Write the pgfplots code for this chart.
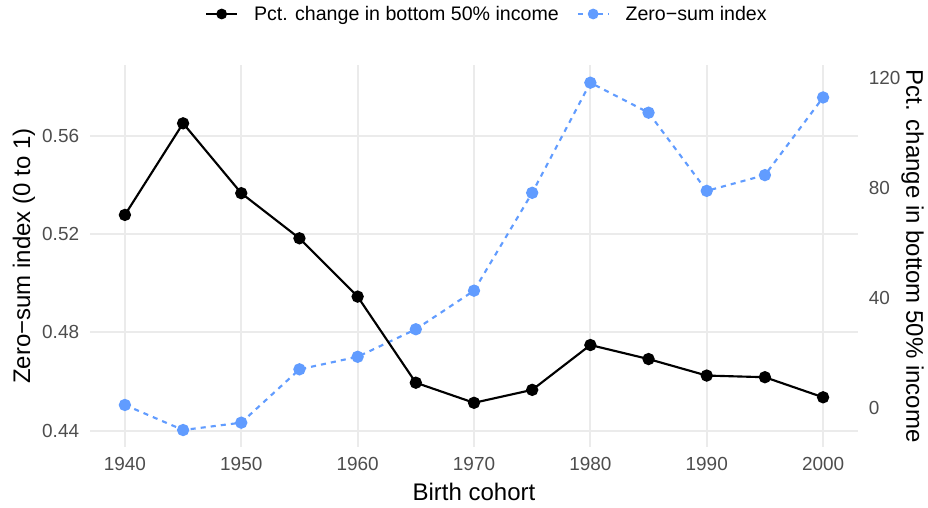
\documentclass[border=0pt]{standalone}
\usepackage{fontspec}
\setmainfont{Liberation Sans}
\usepackage{pgfplots}
\pgfplotsset{compat=1.18}
\definecolor{gridc}{HTML}{EBEBEB}
\definecolor{tickc}{HTML}{4D4D4D}
\definecolor{zsblue}{HTML}{619CFF}
\begin{document}
\begin{tikzpicture}
\useasboundingbox (0,0) rectangle (696pt,380.25pt);
\begin{axis}[
  at={(67.5pt,45pt)}, anchor=south west, scale only axis,
  width=576pt, height=286.5pt,
  xmin=1937, xmax=2003, ymin=0.4333, ymax=0.5887,
  xtick={1940,1950,1960,1970,1980,1990,2000},
  ytick={0.44,0.48,0.52,0.56},
  /pgf/number format/assume math mode=true,
  xticklabel style={/pgf/number format/1000 sep={}, font=\fontsize{14.2}{16}\selectfont, text=tickc, anchor=north, inner sep=0pt, yshift=-7.5pt},
  yticklabel style={/pgf/number format/fixed, /pgf/number format/precision=2, /pgf/number format/fixed zerofill, font=\fontsize{14.2}{16}\selectfont, text=tickc, anchor=east, inner sep=0pt, xshift=-8pt},
  grid=major, major grid style={gridc, line width=1.5pt},
  axis line style={draw=none}, major tick length=0pt,
  xlabel={Birth cohort}, ylabel={Zero−sum index (0 to 1)},
  label style={font=\fontsize{18}{21}\selectfont},
  xlabel style={at={(axis description cs:0.5,-0.1178)}, anchor=center},
  ylabel style={at={(axis description cs:-0.0859,0.5)}, anchor=center, rotate=0},
  legend image code/.code={\draw[mark repeat=2, mark phase=2, mark size=3.2pt] plot coordinates {(0pt,0pt) (11.5pt,0pt) (23pt,0pt)};},
  legend style={at={(axis description cs:0.5156,1.1335)}, anchor=center, draw=none, fill=none, font=\fontsize{14.7}{17}\selectfont, nodes={inner sep=0pt}, /tikz/every odd column/.append style={column sep=12pt}, /tikz/every even column/.append style={column sep=13.5pt}},
  legend columns=2, legend cell align=left,
  clip=false,
]
\addlegendimage{black, line width=1.6pt, mark=*, mark size=3.8pt}
\addlegendentry{Pct. change in bottom 50\% income}
\addplot[zsblue, line width=1.6pt, dash pattern=on 3.8pt off 3.8pt, mark=*, mark size=3.8pt, mark options={solid, fill=zsblue, draw=zsblue}] coordinates {
(1940,0.4504) (1945,0.4402) (1950,0.4432) (1955,0.4649) (1960,0.4700)
(1965,0.4812) (1970,0.4969) (1975,0.5367) (1980,0.5815) (1985,0.5693)
(1990,0.5375) (1995,0.5439) (2000,0.5755)};
\addlegendentry{Zero−sum index}
\end{axis}
\begin{axis}[
  at={(67.5pt,45pt)}, anchor=south west, scale only axis,
  width=576pt, height=286.5pt,
  xmin=1937, xmax=2003, ymin=-14.07, ymax=124.8,
  axis x line=none, axis y line*=right,
  ytick={0,40,80,120},
  /pgf/number format/assume math mode=true,
  yticklabel style={font=\fontsize{14.2}{16}\selectfont, text=tickc, anchor=west, inner sep=0pt, xshift=8pt},
  axis line style={draw=none}, major tick length=0pt,
  ylabel={Pct. change in bottom 50\% income},
  ylabel style={font=\fontsize{18}{21}\selectfont, at={(axis description cs:1.071,0.5)}, anchor=center, rotate=180},
  clip=false,
]
\addplot[black, line width=1.6pt, mark=*, mark size=3.8pt] coordinates {
(1940,70.3) (1945,103.6) (1950,78.2) (1955,61.8) (1960,40.6)
(1965,9.3) (1970,2.0) (1975,6.7) (1980,23.0) (1985,17.9)
(1990,11.9) (1995,11.3) (2000,4.0)};
\end{axis}
\end{tikzpicture}
\end{document}
